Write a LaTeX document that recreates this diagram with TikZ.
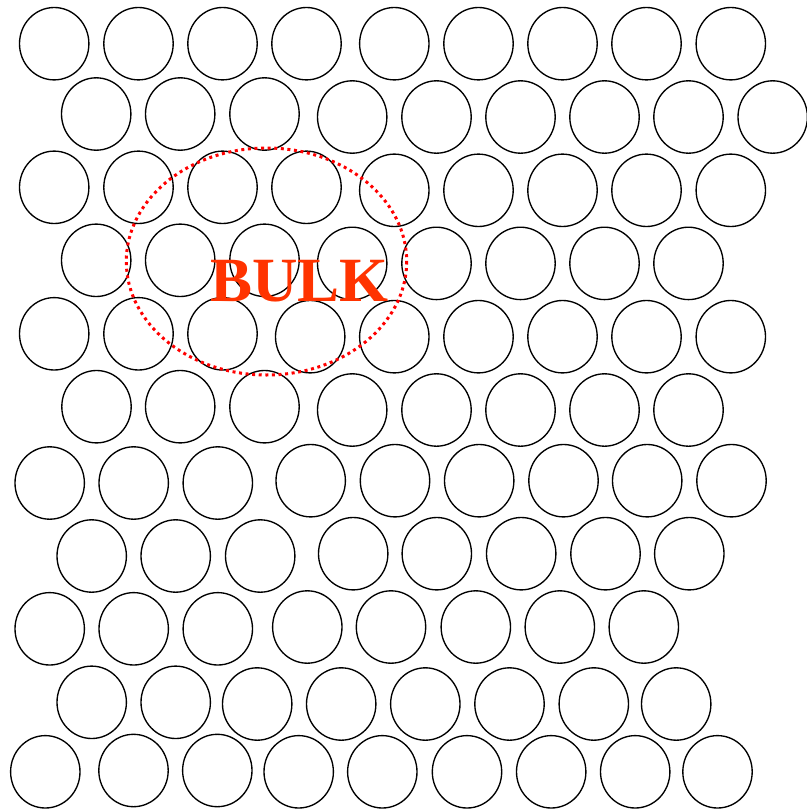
\documentclass[tikz,border=0pt]{standalone}
\usepackage{fontspec}
\usepackage{tikz}
\newfontfamily\bulkfont{Liberation Serif}
\definecolor{bulkred}{RGB}{255, 51, 0}
\definecolor{dotred}{RGB}{255, 0, 0}

\begin{document}
\begin{tikzpicture}[x=1pt, y=-1pt,
    grain/.style={draw=black, line width=1.35pt},
    region/.style={draw=dotred, line width=3pt, dash pattern=on 3pt off 3.6pt}]
  \useasboundingbox (0,0) rectangle (806,811);
  % grains, row by row
  \foreach \x/\y in {54.2/43.7, 138.5/43.7, 222.5/43.7, 306.5/43.7, 394.3/43.7, 478.5/43.7, 562.5/43.7, 646.5/43.7, 730.8/43.7}
    \draw[grain] (\x,\y) ellipse [x radius=34.7, y radius=36.2];
  \foreach \x/\y in {96.2/114, 180.2/114, 264.5/114, 352.2/117, 436.5/117, 520.5/117, 604.5/117, 688.5/117, 772.7/117}
    \draw[grain] (\x,\y) ellipse [x radius=34.7, y radius=36.2];
  \foreach \x/\y in {54.2/187.3, 138.5/187.3, 222.5/187.3, 306.5/187.3, 394.3/190.3, 478.5/190.3, 562.5/190.3, 646.5/190.3, 730.8/190.3}
    \draw[grain] (\x,\y) ellipse [x radius=34.7, y radius=36.2];
  \foreach \x/\y in {96.2/260.3, 180.2/260.3, 264.5/260.3, 352.2/263.4, 436.5/263.4, 520.5/263.4, 604.5/263.4, 688.5/263.4}
    \draw[grain] (\x,\y) ellipse [x radius=34.7, y radius=36.2];
  \foreach \x/\y in {54.2/333.8, 138.5/333.8, 222.5/333.8, 310.2/336.7, 394.3/336.7, 478.5/336.7, 562.5/336.7, 646.5/336.7, 730.8/336.7}
    \draw[grain] (\x,\y) ellipse [x radius=34.7, y radius=36.2];
  \foreach \x/\y in {96.5/406.7, 180.2/406.7, 264.5/406.7, 352.2/410, 436.5/410, 520.5/410, 604.5/410, 688.5/410}
    \draw[grain] (\x,\y) ellipse [x radius=34.7, y radius=36.2];
  \foreach \x/\y in {49.7/483, 133.7/483, 217.8/483, 310.7/480.7, 395/480.7, 479.2/480.7, 563.5/480.7, 647.2/480.7, 731.5/480.7}
    \draw[grain] (\x,\y) ellipse [x radius=34.7, y radius=36.2];
  \foreach \x/\y in {91.7/556, 175.7/556, 260.2/556, 353.2/553.7, 436.8/553.7, 521.2/553.7, 605.5/553.7, 689.3/553.7}
    \draw[grain] (\x,\y) ellipse [x radius=34.7, y radius=36.2];
  \foreach \x/\y in {49.7/628.8, 133.7/628.8, 217.8/628.8, 307.3/627, 391/627, 475.8/627, 559.8/627, 643.8/627}
    \draw[grain] (\x,\y) ellipse [x radius=34.7, y radius=36.2];
  \foreach \x/\y in {91.7/702.3, 175.7/702.3, 257.2/704, 341.2/704, 425.3/704, 509.5/704, 593.8/704, 676.2/704}
    \draw[grain] (\x,\y) ellipse [x radius=34.7, y radius=36.2];
  \foreach \x/\y in {45.3/771.8, 133.5/770.5, 217.3/770.5, 298.7/771.8, 382.3/771.8, 467/771.8, 551.2/771.8, 635.2/771.8, 717.5/771.8}
    \draw[grain] (\x,\y) ellipse [x radius=34.7, y radius=36.2];
  % bulk region
  \draw[region] (266.5,261.5) ellipse [x radius=140.2, y radius=113.5];
  \node[anchor=base, inner sep=0pt, text=bulkred, font=\bulkfont\bfseries\fontsize{63}{63}\selectfont] (bulk) at (299.5,301.5) {BULK};
\end{tikzpicture}
\end{document}
